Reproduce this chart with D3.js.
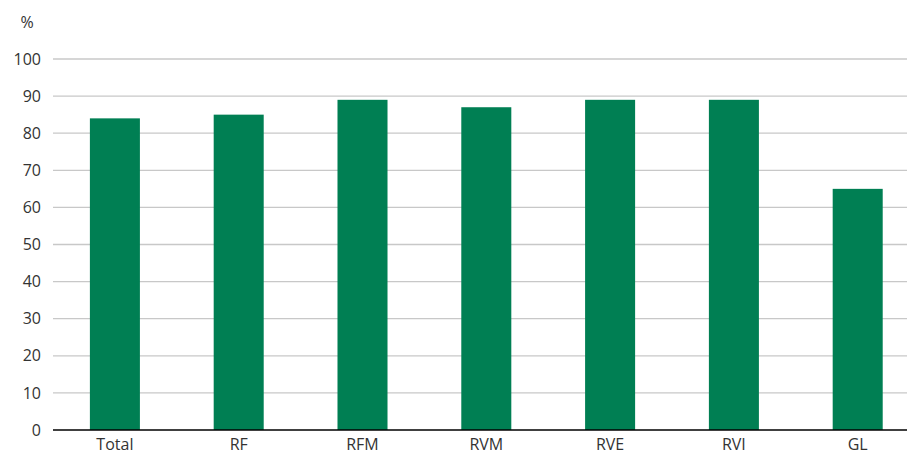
<!DOCTYPE html>
<html><head><meta charset="utf-8">
<script src="https://cdn.jsdelivr.net/npm/d3@7"></script>
<style>body{margin:0;background:#fff}svg text{font-family:"Open Sans","Noto Sans",sans-serif;fill:#333}</style>
</head><body><svg id="c" width="907" height="455"></svg>
<script>
const categories = ["Total","RF","RFM","RVM","RVE","RVI","GL"];
const values = [84,85,89,87,89,89,65];
const yTicks = [0,10,20,30,40,50,60,70,80,90,100];

const svg = d3.select("#c");
const x = d3.scaleBand().domain(categories).range([53, 919.6]).padding(0);
const y = d3.scaleLinear().domain([0,100]).range([430, 59]);
const bw = x.bandwidth()*0.404;

svg.append("g").selectAll("line").data(yTicks.filter(d=>d>0)).join("line")
  .attr("x1",53).attr("x2",907).attr("y1",d=>y(d)).attr("y2",d=>y(d))
  .attr("stroke","#c8c8c8").attr("stroke-width",1.3);

svg.append("g").selectAll("rect").data(values).join("rect")
  .attr("x",(d,i)=>x(categories[i])+x.bandwidth()/2-bw/2)
  .attr("width",bw)
  .attr("y",d=>y(d)).attr("height",d=>y(0)-y(d))
  .attr("fill","#007f53");

svg.append("line").attr("x1",53).attr("x2",907).attr("y1",y(0)).attr("y2",y(0))
  .attr("stroke","#000").attr("stroke-width",1.3);

svg.append("g").selectAll("text").data(yTicks).join("text")
  .attr("x",41).attr("y",d=>y(d)).attr("dy","0.35em").attr("text-anchor","end")
  .attr("font-size",16).text(d=>d);

svg.append("g").selectAll("text").data(categories).join("text")
  .attr("x",d=>x(d)+x.bandwidth()/2).attr("y",450).attr("text-anchor","middle")
  .attr("font-size",16).text(d=>d);

svg.append("text").attr("x",27).attr("y",28).attr("text-anchor","middle").attr("font-size",16).text("%");
</script></body></html>
